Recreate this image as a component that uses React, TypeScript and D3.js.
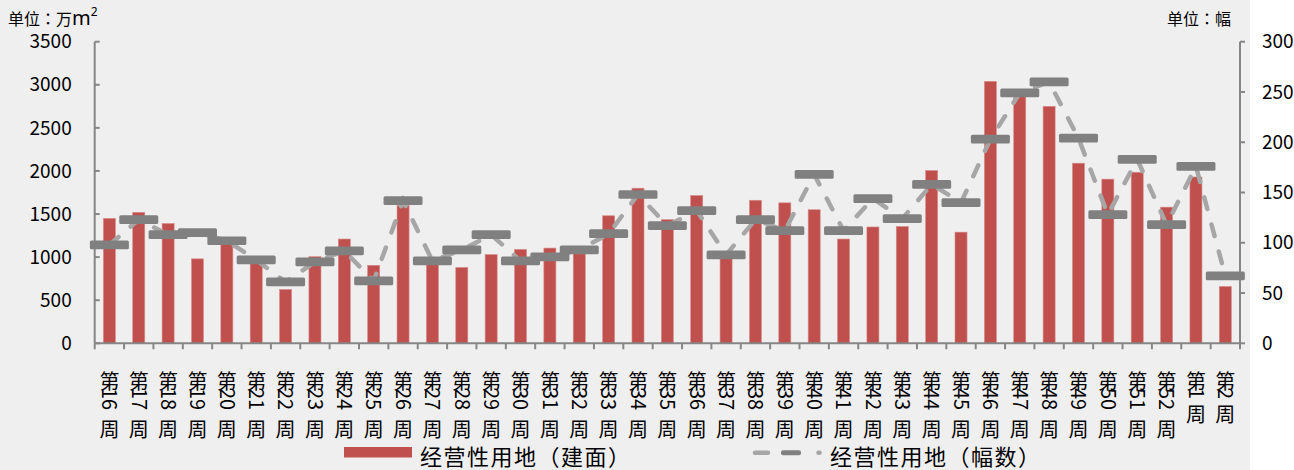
import React from 'react';
import * as d3 from 'd3';

// Week numbers along the x axis (weeks 16–52, then weeks 1–2 of the new year)
const weeks: string[] = [
  '16', '17', '18', '19', '20', '21', '22', '23', '24', '25', '26', '27', '28',
  '29', '30', '31', '32', '33', '34', '35', '36', '37', '38', '39', '40', '41',
  '42', '43', '44', '45', '46', '47', '48', '49', '50', '51', '52', '1', '2',
];

// 经营性用地（建面）, 万m²
const areaValues: number[] = [
  1450, 1520, 1390, 980, 1160, 960, 625, 1005, 1210, 905, 1600, 960, 880,
  1030, 1090, 1105, 1080, 1480, 1800, 1435, 1715, 1000, 1660, 1630, 1550, 1210,
  1350, 1355, 2005, 1290, 3040, 2880, 2750, 2090, 1905, 1985, 1580, 1930, 660,
];

// 经营性用地（幅数）, 幅
const countValues: number[] = [
  98, 123, 108, 110, 102, 83, 61, 81, 92, 62, 142, 82, 93,
  108, 82, 86, 93, 109, 148, 117, 132, 88, 123, 112, 168, 112,
  144, 124, 158, 140, 203, 249, 260, 204, 128, 183, 118, 176, 67,
];

const leftTicks: number[] = [0, 500, 1000, 1500, 2000, 2500, 3000, 3500];
const rightTicks: number[] = [0, 50, 100, 150, 200, 250, 300];

const unitPrefix = '单位';
const leftUnitName = '万';
const rightUnitName = '幅';
const areaLegend = '经营性用地（建面）';
const countLegend = '经营性用地（幅数）';

const W = 1294;
const H = 470;
const plot = { left: 94.7, right: 1240, top: 41.7, bottom: 343.3 };

const CJK = "'Noto Sans CJK SC', 'Noto Sans', sans-serif";
// centred full-width colon glyph
const COLON_FONT = "'Noto Sans CJK TC', 'Noto Sans CJK SC', sans-serif";
const BAR = '#C0504D';
const AXIS = '#868686';
const LINE = '#A6A6A6';
const MARK = '#808080';

export default function App() {
  const x = d3.scaleBand<string>().domain(weeks).range([plot.left, plot.right]).padding(0);
  const slot = x.bandwidth();
  const barW = slot * 0.41;
  const cx = (w: string) => (x(w) as number) + slot / 2;

  const yL = d3.scaleLinear().domain([0, 3500]).range([plot.bottom, plot.top]);
  const yR = d3.scaleLinear().domain([0, 300]).range([plot.bottom, plot.top]);

  const linePath = d3
    .line<number>()
    .x((_, i) => cx(weeks[i]))
    .y((d) => yR(d))(countValues) as string;

  const markW = 39;
  const markH = 8.7;

  return (
    <svg
      width={W}
      height={H}
      style={{ position: 'absolute', left: 0, top: 0, display: 'block' }}
      fontFamily={CJK}
    >
      <rect x={0} y={0} width={W} height={H} fill="#ffffff" />
      <rect x={0} y={0} width={1250} height={H} fill="#EFEFEF" />

      {/* unit captions */}
      <text x={8} y={25} fontSize={16} fill="#000">
        {unitPrefix}
        <tspan fontFamily={COLON_FONT}>：</tspan>
        {leftUnitName}
        <tspan fontSize={20} fontFamily="'Noto Sans', sans-serif">m</tspan>
        <tspan fontSize={12} dy={-9} fontFamily="'Noto Sans', sans-serif">2</tspan>
      </text>
      <text x={1231} y={25} fontSize={16} textAnchor="end" fill="#000">
        {unitPrefix}
        <tspan fontFamily={COLON_FONT}>：</tspan>
        {rightUnitName}
      </text>

      {/* bars */}
      {areaValues.map((v, i) => (
        <rect
          key={'b' + i}
          x={cx(weeks[i]) - barW / 2}
          y={yL(v)}
          width={barW}
          height={yL(0) - yL(v)}
          fill={BAR}
          stroke="#D98C8A"
          strokeWidth={0.6}
        />
      ))}

      {/* axes */}
      <g stroke={AXIS} strokeWidth={2} fill="none">
        <line x1={plot.left} x2={plot.left} y1={plot.top} y2={plot.bottom} />
        <line x1={plot.right} x2={plot.right} y1={plot.top} y2={plot.bottom} />
        {leftTicks.map((t) => (
          <line key={'lt' + t} x1={plot.left} x2={plot.left + 5} y1={yL(t)} y2={yL(t)} />
        ))}
        {rightTicks.map((t) => (
          <line key={'rt' + t} x1={plot.right} x2={plot.right + 5} y1={yR(t)} y2={yR(t)} />
        ))}
        <line x1={plot.left} x2={plot.right} y1={plot.bottom} y2={plot.bottom} />
        {weeks.map((w) => (
          <line key={'xt' + w} x1={x(w) as number} x2={x(w) as number} y1={plot.bottom} y2={plot.bottom + 6} />
        ))}
        <line x1={plot.right} x2={plot.right} y1={plot.bottom} y2={plot.bottom + 6} />
      </g>

      {/* axis labels */}
      {leftTicks.map((t) => (
        <text key={'ll' + t} x={71.7} y={yL(t)} dy="0.35em" fontSize={19} textAnchor="end" fill="#000">
          {t}
        </text>
      ))}
      {rightTicks.map((t) => (
        <text key={'rl' + t} x={1262} y={yR(t)} dy="0.35em" fontSize={19} fill="#000">
          {t}
        </text>
      ))}

      {/* count series: dashed connector + bar markers */}
      <path
        d={linePath}
        fill="none"
        stroke={LINE}
        strokeWidth={4.5}
        strokeLinecap="round"
        strokeDasharray="12,16"
      />
      {countValues.map((v, i) => (
        <rect
          key={'m' + i}
          x={cx(weeks[i]) - markW / 2}
          y={yR(v) - markH / 2}
          width={markW}
          height={markH}
          rx={1.5}
          fill={MARK}
        />
      ))}

      {/* vertical category labels: 第 / rotated digits / 周 */}
      {weeks.map((w) => {
        const c = cx(w);
        const n = w.length;
        return (
          <g key={'xl' + w} fill="#000" fontSize={20}>
            <text x={c} y={389} textAnchor="middle">第</text>
            <text transform={`translate(${c},388) rotate(90)`} x={0} y={0} dy="0.36em">
              {w}
            </text>
            <text x={c} y={406.6 + 15 * n} textAnchor="middle">周</text>
          </g>
        );
      })}

      {/* legend */}
      <rect x={344} y={447} width={68} height={10.5} fill={BAR} />
      <text x={420} y={465} fontSize={22} letterSpacing={1.5} fill="#000">{areaLegend}</text>
      <g>
        <line x1={755} x2={768} y1={452.7} y2={452.7} stroke={LINE} strokeWidth={4.5} strokeLinecap="round" />
        <rect x={781} y={450.2} width={20} height={5} rx={2} fill={MARK} />
        <line x1={818.5} x2={819.5} y1={452.7} y2={452.7} stroke={LINE} strokeWidth={4.5} strokeLinecap="round" />
      </g>
      <text x={830} y={465} fontSize={22} letterSpacing={1.5} fill="#000">{countLegend}</text>
    </svg>
  );
}
